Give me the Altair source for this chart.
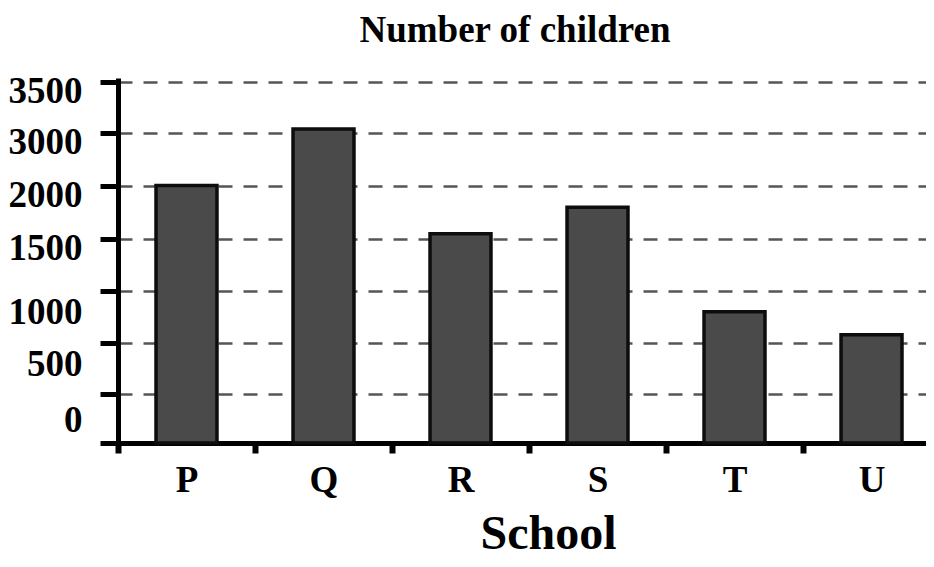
import altair as alt
import pandas as pd

# ---- data ----
schools = ["P", "Q", "R", "S", "T", "U"]
children = [2010, 3040, 1550, 1800, 800, 580]
tick_values = [0, 500, 1000, 1500, 2000, 3000, 3500]   # printed y labels (uneven scale)
baseline_value = -480                                  # bars stand on a baseline below "0"

df = pd.DataFrame({"School": schools, "Children": children,
                   "Base": [baseline_value] * len(schools)})

FONT = "Liberation Serif"
W, H = 808, 365

# piecewise scale: printed gridlines are evenly spaced although 2000 -> 3000 skips 2500
y_domain = [baseline_value] + tick_values + [3540]
y_range = [365, 316, 265, 213, 161, 108, 55, 4, 0]

bars = alt.Chart(df).mark_bar(
    fill="#4a4a4a", stroke="#0d0d0d", strokeWidth=3.5
).encode(
    x=alt.X("School:N", sort=schools,
            scale=alt.Scale(paddingInner=0.555, paddingOuter=0.2263, align=0.613),
            axis=alt.Axis(title="School", titleFont=FONT, titleFontSize=48,
                          titleFontWeight="bold", titleColor="black",
                          titleX=430, titleY=105, titleBaseline="alphabetic",
                          titleAlign="center",
                          labelFont=FONT, labelFontSize=37, labelFontWeight="bold",
                          labelColor="black", labelAngle=0, labelPadding=9,
                          tickSize=10, tickWidth=6, tickColor="black",
                          tickOffset=-68.5, labelOffset=68.5,
                          domainColor="black", domainWidth=5, grid=False)),
    y=alt.Y("Children:Q",
            scale=alt.Scale(domain=y_domain, range=y_range, nice=False, zero=False),
            axis=alt.Axis(title=None, values=[baseline_value] + tick_values,
                          format="d",
                          labelExpr="datum.value < 0 ? '' : datum.label",
                          labelFont=FONT, labelFontSize=37, labelFontWeight="bold",
                          labelColor="black", labelPadding=18,
                          labelOffset={"condition": [
                              {"test": "datum.value == 0", "value": 26},
                              {"test": "datum.value <= 1000", "value": 21}],
                              "value": 9},
                          tickSize=18, tickWidth=5, tickColor="black",
                          domainColor="black", domainWidth=5,
                          grid=True, gridColor="#555555", gridWidth=2.5,
                          gridDash=[14, 11])),
    y2="Base:Q",
)

chart = bars.properties(
    width=W, height=H,
    title=alt.TitleParams("Number of children", font=FONT, fontSize=37,
                          fontWeight="bold", color="black", anchor="middle",
                          frame="group", dx=-7, dy=-18),
    autosize=alt.AutoSizeParams(type="none"),
    padding={"left": 110, "top": 70, "right": 0, "bottom": 116},
).configure_view(stroke=None)

chart.save("out.html", embed_options={"renderer": "svg", "actions": False})
